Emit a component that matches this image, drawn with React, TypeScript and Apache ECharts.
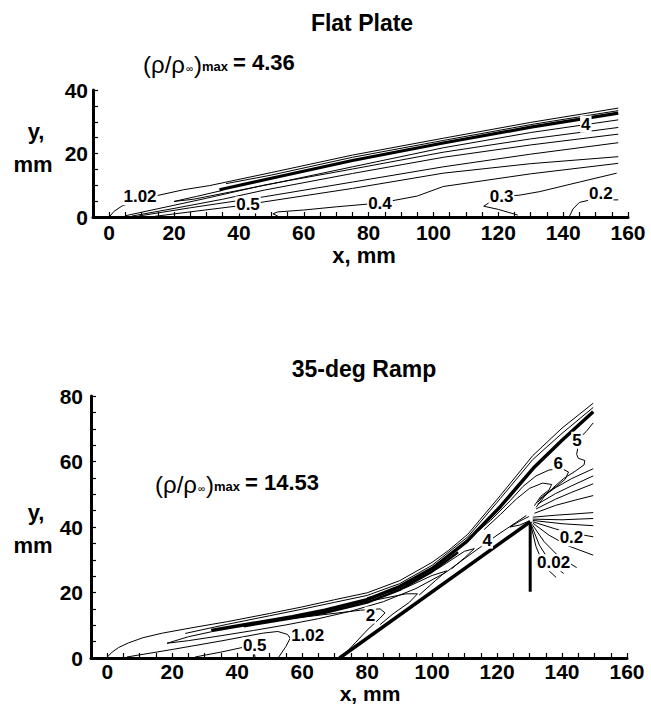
import React, { useEffect, useRef } from 'react';
import * as echarts from 'echarts';

const FONT = '"Liberation Sans", Arial, Helvetica, sans-serif';

// ---- tick labels ----
const xTickLabels = [0, 20, 40, 60, 80, 100, 120, 140, 160];
const yTopTickLabels = [0, 20, 40];
const yBottomTickLabels = [0, 20, 40, 60, 80];

// ---- Flat plate contour lines [x mm, y mm] ----
const fpOuter = [[0, 0], [1.5, 1.8], [4, 3.5], [8, 4.9], [15, 6.8], [23, 8.6], [31, 9.9], [37, 11.2], [50, 14.0], [75, 19.5], [103, 24.8], [130, 29.8], [157, 34.3]];
const fpB = [[36, 10.5], [50, 13.2], [75, 18.8], [103, 24.1], [130, 29.1], [157, 33.5]];
const fpThick = [[34, 8.6], [50, 12.2], [75, 17.8], [103, 23.3], [130, 28.3], [157, 32.7]];
const fpTip = [[35, 8.4], [27, 6.5], [20, 4.9], [26, 5.6], [36, 7.6], [50, 10.4], [75, 15.8], [103, 21.8], [130, 26.6], [157, 30.6]];
const fpE = [[5, 0.4], [15, 2.6], [30, 5.9], [48, 10.1], [75, 15.1], [103, 20.4], [130, 24.6], [157, 28.2]];
const fpF = [[7, 0.3], [20, 2.7], [35, 5.6], [48, 8.5], [75, 13.7], [103, 18.8], [130, 22.7], [157, 26.1]];
const fpG = [[9, 0.3], [25, 2.9], [48, 6.4], [75, 11.0], [103, 15.8], [130, 19.8], [157, 23.4]];
const fp05 = [[14, 0.2], [28, 2.0], [43, 3.9], [48, 4.8], [75, 9.0], [103, 13.8], [130, 16.8], [157, 19.0]];
const fp04 = [[52, 0.3], [50.5, 1.0], [52, 1.6], [60, 2.2], [70, 3.2], [83.5, 4.4], [95, 6.6], [103, 9.6], [130, 13.6], [157, 16.9]];
const fp03 = [[126, 0.6], [120, 2.4], [115.5, 3.4], [117, 4.4], [121, 6.4], [126.7, 6.9], [132.8, 8.0], [145, 11.0], [156.5, 13.8]];
const fp02 = [[142, 0.3], [143, 2.5], [145, 4.6], [148, 5.3], [157, 5.4]];

const fpThinLines = [fpOuter, fpB, fpTip, fpE, fpF, fpG, fp05, fp04, fp03, fp02];
const fpLabels: [string, number, number][] = [
  ['1.02', 9.5, 6.4], ['0.5', 42.8, 3.8], ['0.4', 83.5, 4.4], ['0.3', 121, 6.4], ['0.2', 151.6, 7.3], ['4', 147, 29.2],
];

// ---- 35-deg ramp contour lines [x mm, y mm] ----
const rampSurface = [[71.5, 0], [130.2, 41.6]];
const rampBase = [[130.2, 41.6], [130.2, 20.2]];
const rOuter = [[0, 0.3], [1.5, 1.8], [3.5, 3.2], [6.5, 4.6], [11, 6.2], [17, 7.6], [27, 9.4], [37, 11.1], [50, 13.6], [60, 15.6], [70, 17.8], [80, 19.9], [90, 23.6], [100, 29.2], [105, 32.8], [111, 37.8], [121, 49.6], [131, 61.8], [140, 70.2], [149.6, 77.8]];
const rSecond = [[24, 7.5], [37, 10.3], [50, 12.9], [60, 14.9], [70, 17.0], [80, 19.1], [90, 22.7], [100, 28.3], [111, 37.0], [121, 48.7], [131, 60.6], [140, 68.6], [149.6, 76.5]];
const rThick = [[32, 8.4], [45, 10.6], [57, 12.6], [67, 14.6], [80, 17.8], [90, 21.8], [100, 27.3], [110.7, 35.6], [121, 46.2], [131.2, 58.0], [140, 66.5], [149.6, 75.2]];
const rThick2 = [[42, 9.7], [55, 11.8], [67, 13.8], [80, 16.9], [90, 20.8], [100, 26.4], [108, 32.3]];
const rTip = [[32, 8.0], [25, 6.5], [18.4, 4.5], [25, 5.3], [35, 6.8], [45, 8.4], [55, 10.1], [65, 12.0], [75, 14.3], [85, 17.2], [95, 21.2], [104, 26.0], [112, 31.8], [120, 37.5], [126, 41.5], [129, 43.5]];
const rBubble = [[6, 0.3], [20, 2.6], [35, 5.2], [48, 7.6], [52.5, 8.1], [55.5, 7.2], [56.3, 6.0], [55, 3.5], [52.8, 0.3]];
const r05 = [[27, 0.3], [35, 1.8], [42, 3.3], [45, 3.2], [45.5, 0.3]];
const r2 = [[58, 12.2], [68, 13.4], [78, 14.6], [84, 15.0], [85.5, 13.8], [84, 12.2], [80, 8.5], [76.5, 4.8], [73.5, 1.6]];
const rC3 = [[70, 15.6], [82, 17.6], [92, 19.6], [95.5, 19.6], [93, 17.0], [88, 13.5], [84, 10.2]];
const rC4 = [[80, 18.4], [92, 21.5], [100, 25.2], [104.5, 26.6], [101, 23.6], [96, 19.2]];
const rC5 = [[92, 22.4], [102, 27.4], [110, 32.6], [113, 33.4], [110, 30.6], [106, 27.2]];
const rCorner = [[129.8, 43.2], [127, 41.8], [124, 40.0], [127, 40.6], [130, 41.9]];
const r6 = [[112, 37.0], [118, 42.0], [124, 48.0], [128, 52.4], [132, 55.6], [136, 57.4], [140, 57.8], [142, 56.8], [141, 54.6], [138.5, 52.6], [135, 50.2], [132.5, 47.5]];
const r6Inner = [[116, 39.2], [121, 43.8], [126, 48.6], [130, 51.8], [134, 53.4], [136.8, 53.0], [136, 51.3], [133.5, 49.4], [131.5, 46.5]];
const r5 = [[149.6, 71.8], [147.5, 69.2], [146, 67.8], [145, 65], [144.5, 62.2], [145, 61.0], [147, 60.3], [146.8, 59], [144, 57], [140.5, 54.8], [137.5, 52.2], [134.5, 49.2], [132, 46]];
const fan1 = [[133, 48.5], [138, 52.0], [143, 54.8], [149.6, 57.8]];
const fan2 = [[132.5, 47], [138, 50.2], [143, 52.6], [149.6, 55.6]];
const fan3 = [[132, 45.5], [138, 48.5], [143, 50.6], [149.6, 53.2]];
const fan4 = [[131.5, 44.2], [138, 46.6], [144, 48.2], [149.6, 49.6]];
const fan5 = [[131, 43], [138, 43.6], [144, 44.0], [149.6, 44.4]];
const fan6 = [[131, 42.4], [140, 42.2], [149.6, 42.6]];
const fan7 = [[131, 42], [140, 41], [149.6, 40.4]];
const fan8 = [[131, 41.6], [138, 39.4], [144, 38], [149.6, 37.0]];
const fan9 = [[131, 41.2], [136, 37.5], [142, 34.2], [149.6, 31.4]];
const fan10 = [[130.8, 40.8], [134.5, 35.5], [139, 31], [144.5, 27.6]];
const fan11 = [[130.6, 40.5], [133, 34.5], [136.5, 29], [140.5, 25.8]];
const fan12 = [[130.5, 40.2], [132, 34], [134.5, 28], [138.2, 24.6]];

const rThinLines = [rOuter, rSecond, rTip, rBubble, r05, r2, rC3, rC4, rC5, rCorner, r6, r6Inner, r5,
  fan1, fan2, fan3, fan4, fan5, fan6, fan7, fan8, fan9, fan10, fan11, fan12];
const rLabels: [string, number, number][] = [
  ['0.5', 45.4, 3.7], ['1.02', 61.7, 7.0], ['2', 81, 13.1], ['4', 117, 36], ['6', 138.8, 59.5], ['5', 144.6, 66.5], ['0.2', 142.9, 36.7], ['0.02', 137.4, 29.1],
];

function makeXAxis(gridIndex: number, margin: number) {
  return {
    type: 'value', gridIndex, min: -5, max: 160, interval: 5,
    axisLine: { show: true, onZero: false, lineStyle: { color: '#000', width: 3 } },
    axisTick: { show: true, inside: true, length: 5, lineStyle: { color: '#000', width: 1.2 } },
    splitLine: { show: false },
    axisLabel: {
      color: '#000', fontFamily: FONT, fontWeight: 'bold', fontSize: 21, margin, lineHeight: 20,
      formatter: (v: number) => (xTickLabels.includes(Math.round(v)) ? String(Math.round(v)) : ''),
    },
  };
}
function makeYAxis(gridIndex: number, max: number, labels: number[], margin: number) {
  return {
    type: 'value', gridIndex, min: 0, max, interval: 5,
    axisLine: { show: true, onZero: false, lineStyle: { color: '#000', width: 3 } },
    axisTick: { show: true, inside: true, length: 5, lineStyle: { color: '#000', width: 1.2 } },
    splitLine: { show: false },
    axisLabel: {
      color: '#000', fontFamily: FONT, fontWeight: 'bold', fontSize: 21, margin,
      formatter: (v: number) => (labels.includes(Math.round(v)) ? String(Math.round(v)) : ''),
    },
  };
}
function lineSeries(data: number[][], g: number, width: number) {
  return {
    type: 'line', xAxisIndex: g, yAxisIndex: g, data, symbol: 'none', silent: true,
    lineStyle: { color: '#000', width }, z: 3,
  };
}
function labelSeries(labels: [string, number, number][], g: number) {
  return {
    type: 'scatter', xAxisIndex: g, yAxisIndex: g, symbolSize: 0, silent: true, z: 10,
    itemStyle: { color: 'rgba(0,0,0,0)' },
    data: labels.map(([t, x, y]) => ({ name: t, value: [x, y] })),
    label: {
      show: true, position: 'inside', formatter: '{b}', color: '#000', opacity: 1,
      fontFamily: FONT, fontWeight: 'bold', fontSize: 17, backgroundColor: '#fff', padding: [0, 1],
    },
  };
}
function txt(text: string, x: number, y: number, size: number, weight: string, align = 'left') {
  return {
    type: 'text', x, y, silent: true,
    style: { text, fill: '#000', font: `${weight} ${size}px ${FONT}`, align, verticalAlign: 'middle' },
  };
}
function rhoMax(x0: number, y0: number, value: string) {
  return [
    txt('(ρ/ρ', x0, y0 + 2, 24, 'normal'),
    txt('∞', x0 + 43, y0 + 6, 10, 'normal'),
    txt(')', x0 + 51, y0 + 2, 24, 'normal'),
    txt('max', x0 + 59, y0 + 4, 13, 'bold'),
    txt('= ' + value, x0 + 90, y0, 22, 'bold'),
  ];
}

export default function App() {
  const ref = useRef<HTMLDivElement>(null);
  useEffect(() => {
    const chart = echarts.init(ref.current!, null, { renderer: 'svg' });
    const series: any[] = [];
    fpThinLines.forEach((d) => series.push(lineSeries(d, 0, 1)));
    series.push(lineSeries(fpThick, 0, 3.2));
    series.push(labelSeries(fpLabels, 0));
    rThinLines.forEach((d) => series.push(lineSeries(d, 1, 1)));
    series.push(lineSeries(rThick, 1, 3.5));
    series.push(lineSeries(rThick2, 1, 2.5));
    series.push(lineSeries(rampSurface, 1, 3.5));
    series.push(lineSeries(rampBase, 1, 3));
    series.push(labelSeries(rLabels, 1));

    chart.setOption({
      animation: false,
      backgroundColor: '#fff',
      grid: [
        { left: 93, top: 90, width: 535, height: 127 },
        { left: 91, top: 396, width: 536, height: 262 },
      ],
      xAxis: [makeXAxis(0, 5), makeXAxis(1, 3)],
      yAxis: [makeYAxis(0, 40, yTopTickLabels, 5), makeYAxis(1, 80, yBottomTickLabels, 8)],
      series,
      graphic: [
        txt('Flat Plate', 362, 23, 23, 'bold', 'center'),
        txt('35-deg Ramp', 364, 369, 23, 'bold', 'center'),
        txt('x, mm', 364, 255, 22, 'bold', 'center'),
        txt('x, mm', 370, 693, 21, 'bold', 'center'),
        txt('y,', 36, 131, 22, 'bold', 'center'),
        txt('mm', 33, 164, 22, 'bold', 'center'),
        txt('y,', 36, 512, 22, 'bold', 'center'),
        txt('mm', 33, 545, 22, 'bold', 'center'),
        ...rhoMax(143, 62, '4.36'),
        ...rhoMax(155, 482, '14.53'),
      ],
    });
    return () => chart.dispose();
  }, []);
  return (
    <div
      ref={ref}
      style={{ position: 'fixed', left: 0, top: 0, width: 651, height: 713, background: '#fff' }}
    />
  );
}
